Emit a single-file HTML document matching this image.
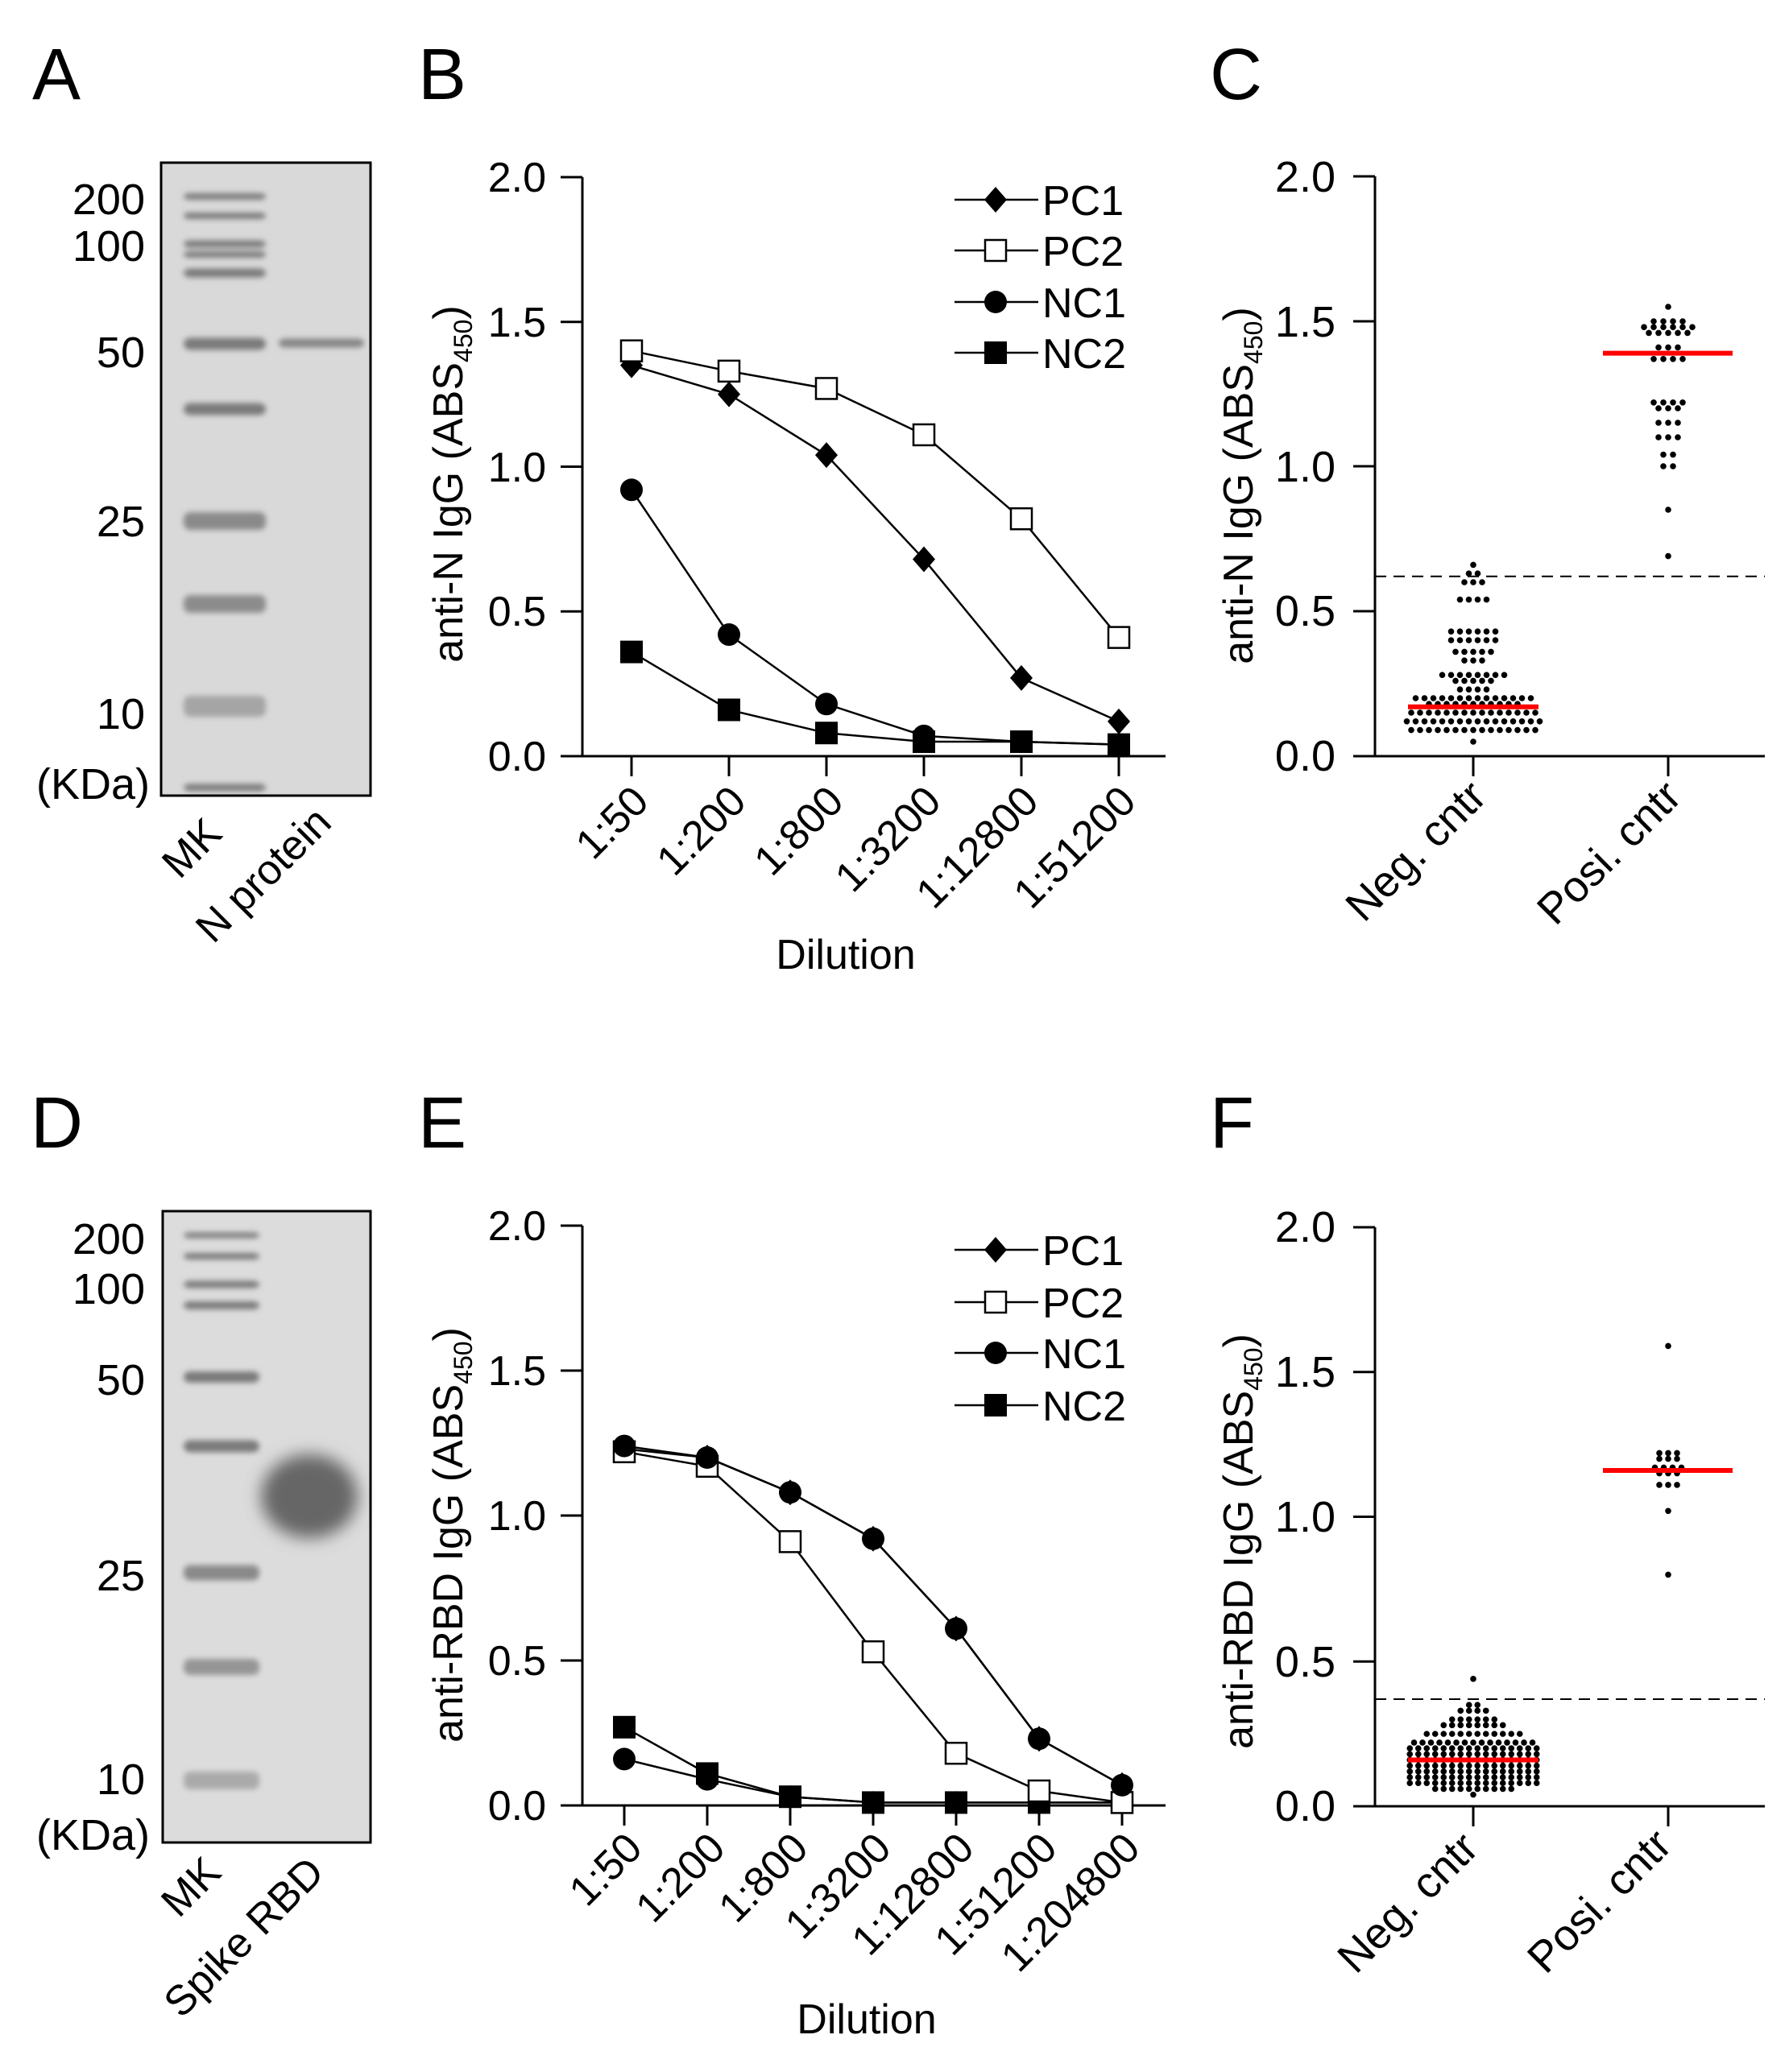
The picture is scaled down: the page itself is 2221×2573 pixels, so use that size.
<!DOCTYPE html>
<html><head><meta charset="utf-8"><style>
html,body{margin:0;padding:0;background:#fff}
svg{display:block}
text{font-family:"Liberation Sans",Arial,sans-serif;fill:#000}
</style></head><body>
<svg id="s" width="2221" height="2573" viewBox="0 0 2221 2573" xmlns="http://www.w3.org/2000/svg">
<defs>
<filter id="bl" x="-50%" y="-50%" width="200%" height="200%"><feGaussianBlur stdDeviation="3.5"/></filter>
<filter id="bl2" x="-50%" y="-50%" width="200%" height="200%"><feGaussianBlur stdDeviation="10"/></filter>
</defs>
<g font-size="90">
<text x="40" y="123">A</text><text x="519" y="123">B</text><text x="1502" y="123">C</text>
<text x="38" y="1425">D</text><text x="519" y="1425">E</text><text x="1502" y="1425">F</text>
</g>

<rect x="200" y="202" width="260" height="786" fill="#d9d9d9"/>
<g id="gelA" filter="url(#bl)" fill="#7a7a7a"></g>
<rect x="200" y="202" width="260" height="786" fill="none" stroke="#000" stroke-width="3"/>
<g font-size="54" text-anchor="end">
<text x="180" y="266">200</text><text x="180" y="324">100</text><text x="180" y="456">50</text>
<text x="180" y="666">25</text><text x="180" y="905">10</text><text x="186" y="992">(KDa)</text>
</g>
<g font-size="52" text-anchor="end">
<text transform="translate(278,1038) rotate(-45)">MK</text>
<text transform="translate(414,1024) rotate(-45)">N protein</text>
</g>

<rect x="202" y="1504" width="258" height="784" fill="#dcdcdc"/>
<g id="gelD" filter="url(#bl)" fill="#7a7a7a"></g>
<ellipse cx="384" cy="1858" rx="60" ry="52" fill="#666" filter="url(#bl2)"/>
<rect x="202" y="1504" width="258" height="784" fill="none" stroke="#000" stroke-width="3"/>
<g font-size="54" text-anchor="end">
<text x="180" y="1557">200</text><text x="180" y="1619">100</text><text x="180" y="1732">50</text>
<text x="180" y="1975">25</text><text x="180" y="2228">10</text><text x="186" y="2297">(KDa)</text>
</g>
<g font-size="52" text-anchor="end">
<text transform="translate(277,2328) rotate(-45)">MK</text>
<text transform="translate(405,2328) rotate(-45)">Spike RBD</text>
</g>

<g font-size="52" text-anchor="end">
<text x="678" y="238">2.0</text><text x="678" y="418">1.5</text><text x="678" y="598">1.0</text><text x="678" y="777">0.5</text><text x="678" y="957">0.0</text>
</g>
<text transform="translate(574,601) rotate(-90)" font-size="52" text-anchor="middle">anti-N IgG (ABS<tspan font-size="32" dy="12">450</tspan><tspan dy="-12">)</tspan></text>
<g font-size="52" text-anchor="end">
<text transform="translate(808,998) rotate(-45)">1:50</text>
<text transform="translate(929,998) rotate(-45)">1:200</text>
<text transform="translate(1050,998) rotate(-45)">1:800</text>
<text transform="translate(1171,998) rotate(-45)">1:3200</text>
<text transform="translate(1292,998) rotate(-45)">1:12800</text>
<text transform="translate(1413,998) rotate(-45)">1:51200</text>
</g>
<text x="1050" y="1203" font-size="52" text-anchor="middle">Dilution</text>
<g font-size="52">
<text x="1294" y="267">PC1</text><text x="1294" y="330">PC2</text><text x="1294" y="394">NC1</text><text x="1294" y="457">NC2</text>
</g>

<g font-size="52" text-anchor="end">
<text x="678" y="1540">2.0</text><text x="678" y="1720">1.5</text><text x="678" y="1900">1.0</text><text x="678" y="2080">0.5</text><text x="678" y="2260">0.0</text>
</g>
<text transform="translate(574,1906) rotate(-90)" font-size="52" text-anchor="middle">anti-RBD IgG (ABS<tspan font-size="32" dy="12">450</tspan><tspan dy="-12">)</tspan></text>
<g font-size="52" text-anchor="end">
<text transform="translate(800,2298) rotate(-45)">1:50</text>
<text transform="translate(903,2298) rotate(-45)">1:200</text>
<text transform="translate(1006,2298) rotate(-45)">1:800</text>
<text transform="translate(1109,2298) rotate(-45)">1:3200</text>
<text transform="translate(1212,2298) rotate(-45)">1:12800</text>
<text transform="translate(1315,2298) rotate(-45)">1:51200</text>
<text transform="translate(1418,2298) rotate(-45)">1:204800</text>
</g>
<text x="1076" y="2525" font-size="52" text-anchor="middle">Dilution</text>
<g font-size="52">
<text x="1294" y="1571">PC1</text><text x="1294" y="1636">PC2</text><text x="1294" y="1699">NC1</text><text x="1294" y="1764">NC2</text>
</g>

<g font-size="54" text-anchor="end">
<text x="1658" y="238">2.0</text><text x="1658" y="418">1.5</text><text x="1658" y="598">1.0</text><text x="1658" y="777">0.5</text><text x="1658" y="957">0.0</text>
</g>
<text transform="translate(1555,603) rotate(-90)" font-size="52" text-anchor="middle">anti-N IgG (ABS<tspan font-size="32" dy="12">450</tspan><tspan dy="-12">)</tspan></text>
<g font-size="54" text-anchor="end">
<text transform="translate(1848,992) rotate(-45)">Neg. cntr</text>
<text transform="translate(2090,992) rotate(-45)">Posi. cntr</text>
</g>

<g font-size="54" text-anchor="end">
<text x="1658" y="1542">2.0</text><text x="1658" y="1722">1.5</text><text x="1658" y="1902">1.0</text><text x="1658" y="2082">0.5</text><text x="1658" y="2261">0.0</text>
</g>
<text transform="translate(1555,1914) rotate(-90)" font-size="52" text-anchor="middle">anti-RBD IgG (ABS<tspan font-size="32" dy="12">450</tspan><tspan dy="-12">)</tspan></text>
<g font-size="54" text-anchor="end">
<text transform="translate(1838,2298) rotate(-45)">Neg. cntr</text>
<text transform="translate(2078,2294) rotate(-45)">Posi. cntr</text>
</g>

<g id="g"></g>
</svg>
<script>
var NS="http://www.w3.org/2000/svg",G=document.getElementById("g");
function el(t,a,p){var e=document.createElementNS(NS,t);for(var k in a)e.setAttribute(k,a[k]);(p||G).appendChild(e);return e;}
function bands(id,list,x1,x2){var p=document.getElementById(id);list.forEach(function(b){el("rect",{x:x1,y:b[0]-b[1]/2,width:x2-x1,height:b[1],rx:8,fill:b[2]||"#7a7a7a"},p);});}
bands("gelA",[[244,8],[268,8],[303,9],[316,8],[339,11],[427,15],[508,15],[647,22,"#8a8a8a"],[750,22,"#8c8c8c"],[877,26,"#a5a5a5"],[978,9]],228,330);
bands("gelA",[[426,11,"#858585"]],346,452);
bands("gelD",[[1534,7],[1560,8],[1595,9],[1621,10],[1710,14],[1796,15],[1953,19,"#8a8a8a"],[2070,20,"#959595"],[2211,22,"#aaaaaa"]],228,322);
function axes(x0,y0,y2,xend,ticks){
  el("line",{x1:x0,y1:y2,x2:x0,y2:y0,stroke:"#000","stroke-width":3});
  el("line",{x1:x0,y1:y0,x2:xend,y2:y0,stroke:"#000","stroke-width":3});
  for(var i=0;i<5;i++){var y=y2+(y0-y2)*i/4;el("line",{x1:x0-27,y1:y,x2:x0,y2:y,stroke:"#000","stroke-width":3});}
  ticks.forEach(function(t){el("line",{x1:t,y1:y0,x2:t,y2:y0+25,stroke:"#000","stroke-width":3});});
}
function mk(type,x,y){
  if(type=="d")el("polygon",{points:(x)+","+(y-16)+" "+(x+14)+","+y+" "+x+","+(y+16)+" "+(x-14)+","+y,fill:"#000"});
  else if(type=="os")el("rect",{x:x-13,y:y-13,width:26,height:26,fill:"#fff",stroke:"#000","stroke-width":2.5});
  else if(type=="c")el("circle",{cx:x,cy:y,r:14,fill:"#000"});
  else el("rect",{x:x-14,y:y-14,width:28,height:28,fill:"#000"});
}
function series(xs,y0,sc,vals,type){
  var pts=vals.map(function(v,i){return xs[i]+","+(y0-v*sc);}).join(" ");
  el("polyline",{points:pts,fill:"none",stroke:"#000","stroke-width":2.5});
  vals.forEach(function(v,i){mk(type,xs[i],y0-v*sc);});
}
function legend(ys){var t=["d","os","c","s"];ys.forEach(function(y,i){el("line",{x1:1185,y1:y,x2:1289,y2:y,stroke:"#000","stroke-width":2.5});mk(t[i],1236,y);});}
var xB=[784,905,1026,1147,1268,1389];
axes(723,939,220,1447,xB);var sB=(939-220)/2;
series(xB,939,sB,[0.36,0.16,0.08,0.05,0.05,0.04],"s");
series(xB,939,sB,[0.92,0.42,0.18,0.07,0.05,0.04],"c");
series(xB,939,sB,[1.35,1.25,1.04,0.68,0.27,0.12],"d");
series(xB,939,sB,[1.40,1.33,1.27,1.11,0.82,0.41],"os");
legend([248,311,375,438]);
var xE=[775,878,981,1084,1187,1290,1393];
axes(723,2242,1522,1447,xE);var sE=(2242-1522)/2;
series(xE,2242,sE,[1.23,1.2,1.08,0.92,0.61,0.23,0.07],"d");
series(xE,2242,sE,[0.16,0.09,0.03,0.01,0.01,0.01,0.01],"c");
series(xE,2242,sE,[0.27,0.11,0.03,0.01,0.01,0.01,0.01],"s");
series(xE,2242,sE,[1.22,1.17,0.91,0.53,0.18,0.05,0.01],"os");
series(xE,2242,sE,[1.24,1.2,1.08,0.92,0.61,0.23,0.07],"c");
legend([1552,1617,1680,1745]);
function swarm(cx,y0,sc,rows,gap){rows.forEach(function(r){var n=r[1];for(var i=0;i<n;i++){var x=cx+(i-(n-1)/2)*gap;el("circle",{cx:x,cy:y0-r[0]*sc,r:3.8,fill:"#000"});}});}
axes(1707,939,219,2191,[1829,2071]);var sC=(939-219)/2;
el("line",{x1:1707,y1:939-0.62*sC,x2:2191,y2:939-0.62*sC,stroke:"#000","stroke-width":2,"stroke-dasharray":"14,9"});
swarm(1829,939,sC,[[0.05,1],[0.09,15],[0.12,16],[0.15,15],[0.18,11],[0.2,14],[0.23,4],[0.26,5],[0.28,8],[0.33,3],[0.36,5],[0.40,6],[0.43,6],[0.54,4],[0.60,3],[0.63,2],[0.66,1]],11);
swarm(2071,939,sC,[[1.55,1],[1.50,4],[1.48,6],[1.46,5],[1.41,3],[1.37,4],[1.22,4],[1.20,3],[1.15,3],[1.10,3],[1.04,2],[1.00,2],[0.85,1],[0.69,1]],12);
el("line",{x1:1748,y1:939-0.17*sC,x2:1910,y2:939-0.17*sC,stroke:"#ff0000","stroke-width":6});
el("line",{x1:1990,y1:939-1.39*sC,x2:2151,y2:939-1.39*sC,stroke:"#ff0000","stroke-width":6});
axes(1707,2243,1524,2191,[1829,2071]);var sF=(2243-1524)/2;
el("line",{x1:1707,y1:2243-0.37*sF,x2:2191,y2:2243-0.37*sF,stroke:"#000","stroke-width":2,"stroke-dasharray":"14,9"});
swarm(1829,2243,sF,[[0.04,1],[0.06,10],[0.08,16],[0.10,16],[0.12,16],[0.14,16],[0.16,16],[0.18,16],[0.20,16],[0.22,15],[0.25,12],[0.28,8],[0.30,6],[0.33,4],[0.35,2],[0.44,1]],10.5);
swarm(2071,2243,sF,[[1.59,1],[1.22,3],[1.20,3],[1.17,4],[1.15,3],[1.11,3],[1.02,1],[0.80,1]],11);
el("line",{x1:1748,y1:2243-0.16*sF,x2:1910,y2:2243-0.16*sF,stroke:"#ff0000","stroke-width":6});
el("line",{x1:1990,y1:2243-1.16*sF,x2:2151,y2:2243-1.16*sF,stroke:"#ff0000","stroke-width":6});
</script>
</body></html>
